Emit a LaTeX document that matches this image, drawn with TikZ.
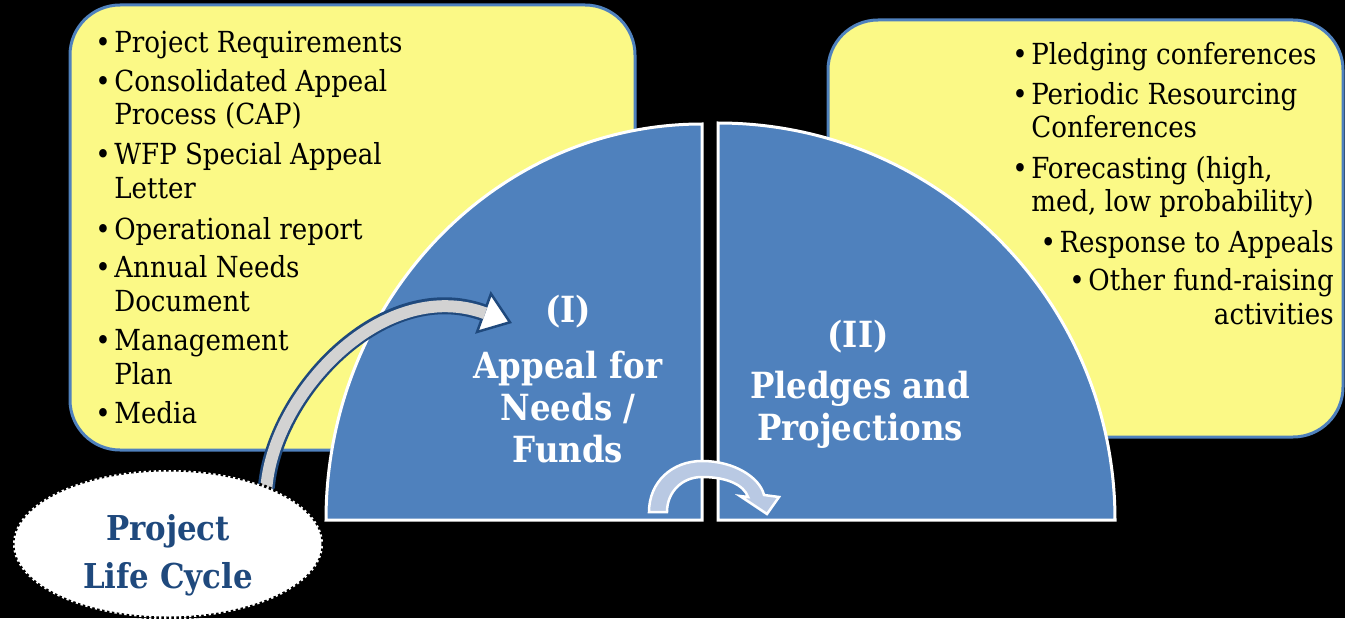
\documentclass[tikz,border=0pt]{standalone}
\usepackage{fontspec}
\setmainfont{DejaVu Serif Condensed}
\usetikzlibrary{arrows.meta,shapes.geometric}
\definecolor{ycol}{RGB}{251,249,134}
\definecolor{bcol}{RGB}{79,129,189}
\definecolor{dcol}{RGB}{31,73,125}
\definecolor{lcol}{RGB}{185,201,227}
\definecolor{gcol}{RGB}{210,210,210}
\newcommand{\bul}{\makebox[3.8mm][l]{\textbullet}}
\newcommand{\nobul}{\hspace*{3.8mm}}
\pgfdeclarelayer{front}
\pgfsetlayers{main,front}
\tikzset{every picture/.style={x=0.2mm,y=0.2mm}}
\tikzset{panel/.style={fill=ycol,draw=bcol,line width=0.6mm,rounded corners=10mm}}
\tikzset{sector/.style={fill=bcol,draw=white,line width=0.6mm}}
\tikzset{item/.style={anchor=base west,align=left,inner sep=0pt,font=\fontsize{16.5}{18.8}\selectfont}}
\tikzset{itemr/.style={item,anchor=base east,align=right}}
\tikzset{title/.style={anchor=base,align=center,inner sep=0pt,text=white,font=\bfseries\fontsize{20.5}{23.8}\selectfont}}
\tikzset{lcyc/.style={ellipse,fill=white,draw=black,line width=0.6mm,dash pattern=on 0.5mm off 0.5mm,minimum width=62mm,minimum height=29.6mm,inner sep=0pt}}
\tikzset{lctxt/.style={anchor=base,align=center,inner sep=0pt,text=dcol,font=\bfseries\fontsize{19.5}{27.2}\selectfont}}
\tikzset{shaft/.style={draw=dcol,line width=3.4mm,-{Triangle[width=9mm,length=6.2mm,fill=white,line width=0.5mm]},postaction={draw=gcol,line width=2.4mm,-,shorten >=5.7mm}}}
\tikzset{turn/.style={fill=lcol,draw=white,line width=0.5mm,line join=miter}}

\begin{document}
\begin{tikzpicture}
\fill [black] (0,0) rectangle (1345,618);
\useasboundingbox (0,0) rectangle (1345,618);

\draw [panel] (70,168) rectangle (635,613);
\draw [panel] (828,181) rectangle (1343,598);

\draw [sector] (702,98) -- (326,98) arc [start angle=180,end angle=90,x radius=376,y radius=396] -- cycle;
\draw [sector] (718,98) -- (1115,98) arc [start angle=0,end angle=90,radius=397] -- cycle;

% base anchor of a wrapped item = its last line
\node [item] (a1) at (95,565) {\bul Project Requirements};
\node [item] (a2) at (95,493) {\bul Consolidated Appeal\\\nobul Process (CAP)};
\node [item] (a3) at (95,420) {\bul WFP Special Appeal\\\nobul Letter};
\node [item] (a4) at (95,379) {\bul Operational report};
\node [item] (a5) at (95,307) {\bul Annual Needs\\\nobul Document};
\node [item] (a6) at (95,234) {\bul Management\\\nobul Plan};
\node [item] (a7) at (95,195) {\bul Media};

\node [item] (b1) at (1012,553) {\bul Pledging conferences};
\node [item] (b2) at (1012,480) {\bul Periodic Resourcing\\\nobul Conferences};
\node [item] (b3) at (1012,406) {\bul Forecasting (high,\\\nobul med, low probability)};
\node [itemr] (b4) at (1334,366) {\bul Response to Appeals};
\node [itemr] (b5) at (1334,294) {\bul Other fund-raising\\activities};

\node [title] (s1) at (568,296) {(I)};
\node [title] (t1) at (568,156) {Appeal for\\Needs /\\Funds};
\node [title] (s2) at (858,271) {(II)};
\node [title] (t2) at (860,178) {Pledges and\\Projections};

\draw [turn] (649,106) .. controls (649,136) and (672,157) .. (702,157)
  .. controls (735,157) and (760,140) .. (764,123) -- (779,121) -- (767,104)
  -- (740,122) -- (748,121) .. controls (744,133) and (727,141) .. (702,141)
  .. controls (682,141) and (667,126) .. (667,106) -- cycle;

\begin{pgfonlayer}{front}
\node [lcyc] (lc) at (168,74) {};
\node [lctxt] (lt) at (168,30) {Project\\Life Cycle};
\end{pgfonlayer}
\coordinate (toI) at (512,295);
\draw [shaft] ([yshift=-2mm]lc.31) .. controls (268,218) and (380,343) .. (toI);
\end{tikzpicture}
\end{document}
